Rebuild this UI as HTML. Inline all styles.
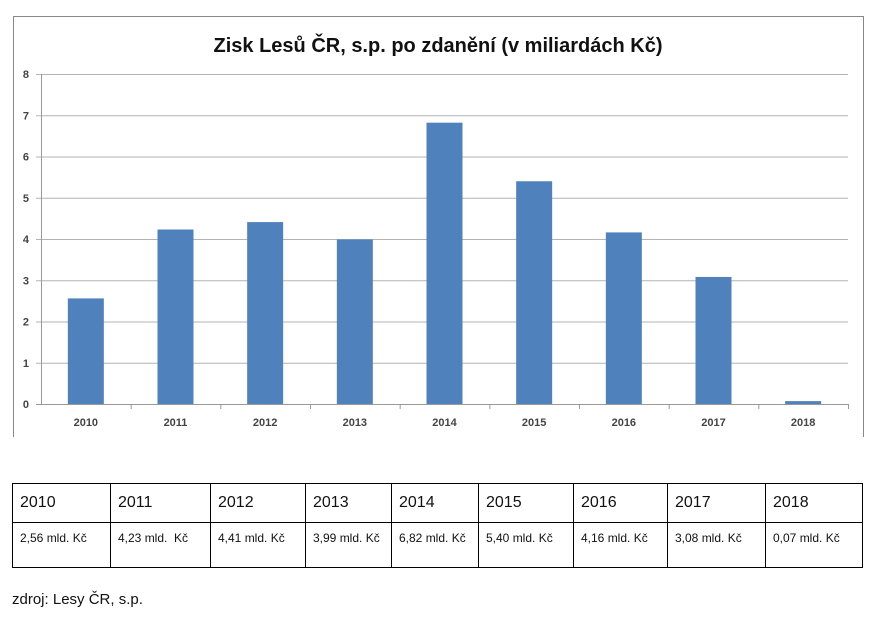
<!DOCTYPE html>
<html><head><meta charset="utf-8"><style>
body{margin:0;width:878px;height:621px;background:#fff;position:relative;font-family:"Liberation Sans",Arial,sans-serif;overflow:hidden}
#chart{position:absolute;left:0;top:0}
table{position:absolute;left:12px;top:483px;border-collapse:collapse;width:850px;table-layout:fixed}
td{border:1px solid #000;vertical-align:top;padding:0 0 0 7px;color:#111;white-space:nowrap;overflow:hidden}
tr.h td{height:38px;font-size:16px;line-height:38px}
tr.v td{height:45px;font-size:12px;padding-top:8px;box-sizing:border-box}
#src{position:absolute;left:12px;top:591px;font-size:15px;color:#111}
</style></head><body>
<svg id="chart" width="878" height="450" xmlns="http://www.w3.org/2000/svg">
<path d="M13.5,437 V16.5 H863.5 V437" fill="none" stroke="#888"/>
<text x="438" y="52" text-anchor="middle" font-family="Liberation Sans" font-weight="bold" font-size="20" fill="#111">Zisk Lesů ČR, s.p. po zdanění (v miliardách Kč)</text>
<g id="grid"></g><g id="bars"></g><g id="axes"></g>
</svg>
<table>
<colgroup><col style="width:98px"><col style="width:100px"><col style="width:95px"><col style="width:86px"><col style="width:87px"><col style="width:95px"><col style="width:94px"><col style="width:98px"><col style="width:97px"></colgroup>
<tr class="h"><td>2010</td><td>2011</td><td>2012</td><td>2013</td><td>2014</td><td>2015</td><td>2016</td><td>2017</td><td>2018</td></tr>
<tr class="v"><td>2,56 mld. Kč</td><td>4,23 mld.&nbsp; Kč</td><td>4,41 mld. Kč</td><td>3,99 mld. Kč</td><td>6,82 mld. Kč</td><td>5,40 mld. Kč</td><td>4,16 mld. Kč</td><td>3,08 mld. Kč</td><td>0,07 mld. Kč</td></tr>
</table>
<div id="src">zdroj: Lesy ČR, s.p.</div>
<script>
const categories=["2010","2011","2012","2013","2014","2015","2016","2017","2018"];
const values=[2.56,4.23,4.41,3.99,6.82,5.40,4.16,3.08,0.07];
const yTicks=[0,1,2,3,4,5,6,7,8];
const NS="http://www.w3.org/2000/svg";
const X0=41,X1=848,Y0=404,Y1=74,YMAX=8;
const y=v=>Y0-(Y0-Y1)*v/YMAX;
const bw=(X1-X0)/categories.length;
const x=i=>X0+bw*i;
function mk(t,a,p){const e=document.createElementNS(NS,t);for(const k in a)e.setAttribute(k,a[k]);p.appendChild(e);return e;}
const G=document.getElementById('grid'),B=document.getElementById('bars'),A=document.getElementById('axes');
yTicks.forEach(t=>{
 const l=mk('line',{x1:X0-5,x2:X1,y1:y(t)+.5,y2:y(t)+.5,stroke:t?'#b3b3b3':'#999'},G);
 
 
 const tx=mk('text',{x:29,y:y(t)+4,'text-anchor':'end','font-size':11,'font-family':'Liberation Sans','font-weight':'bold',fill:'#444'},A);
 tx.textContent=t;
 
 
});
const ax=mk('line',{x1:X0+.5,x2:X0+.5,y1:Y1,y2:Y0,stroke:'#999'},A);


categories.forEach((c,i)=>{
 const r=mk('rect',{x:x(i)+bw/2-18,y:y(values[i]),width:36,height:Y0-y(values[i]),fill:'#4f81bd'},B);
 
 
 const tk=mk('line',{x1:x(i+1)+.5,x2:x(i+1)+.5,y1:Y0,y2:Y0+5,stroke:'#999'},A);
 
 
 const tx=mk('text',{x:x(i)+bw/2,y:426,'text-anchor':'middle','font-size':11,'font-family':'Liberation Sans','font-weight':'bold',fill:'#444'},A);
 tx.textContent=c;
 
 
});
</script>
</body></html>
